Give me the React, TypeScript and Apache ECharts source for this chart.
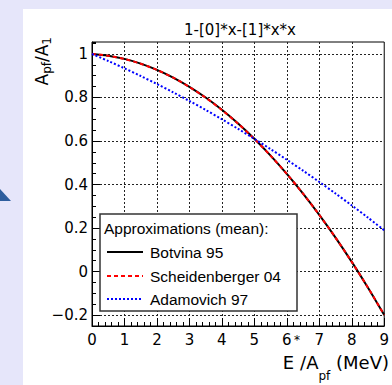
import React, { useEffect, useRef } from "react";
import * as echarts from "echarts";

// Energy per nucleon E*/A_pf (MeV)
const xValues = [0, 0.5, 1, 1.5, 2, 2.5, 3, 3.5, 4, 4.5, 5, 5.5, 6, 6.5, 7, 7.5, 8, 8.5, 9];
// A_pf / A_1
const botvina95 = [1, 0.9921, 0.9774, 0.9557, 0.9271, 0.8916, 0.8491, 0.7998, 0.7435, 0.6803, 0.6103, 0.5332, 0.4493, 0.3585, 0.2607, 0.1561, 0.0445, -0.074, -0.1994];
const scheidenberger04 = [1, 0.992, 0.977, 0.9552, 0.9265, 0.8909, 0.8484, 0.799, 0.7427, 0.6796, 0.6095, 0.5326, 0.4487, 0.358, 0.2604, 0.1559, 0.0445, -0.0738, -0.199];
const adamovich97 = [1, 0.9678, 0.934, 0.8988, 0.862, 0.8238, 0.784, 0.7428, 0.7, 0.6558, 0.61, 0.5628, 0.514, 0.4638, 0.412, 0.3588, 0.304, 0.2478, 0.19];

const chartTitle = "1-[0]*x-[1]*x*x";
const legendHeader = "Approximations (mean):";
const seriesNames = ["Botvina 95", "Scheidenberger 04", "Adamovich 97"];
const seriesColors = ["#000000", "#ff0000", "#0000ff"];
const seriesDash: (number[] | null)[] = [null, [4, 3], [2, 2]];

const toPairs = (ys: number[]) => xValues.map((x, i) => [x, ys[i]]);

export default function App() {
  const ref = useRef<HTMLDivElement>(null);
  useEffect(() => {
    const chart = echarts.init(ref.current!, null, { renderer: "svg", width: 392, height: 385 });
    const gridLeft = 92, gridTop = 42, gridW = 297, gridH = 284;
    const tickFont = "DejaVu Sans";
    const gridLine = { color: "#222", type: [2, 2], width: 1 };
    const yFormatter = (v: number) => {
      const k = Math.round(v / 0.2);
      if (Math.abs(v - k * 0.2) > 1e-6) return "";
      const r = Math.round(v * 10) / 10;
      if (Math.abs(r) < 1e-9) return "0";
      return String(r).replace("-", "\u2212");
    };
    const allSeries = [botvina95, scheidenberger04, adamovich97];
    const legendRows = [252, 276, 299];
    const option: any = {
      animation: false,
      backgroundColor: "#e6e6fa",
      grid: {
        left: gridLeft, top: gridTop, width: gridW, height: gridH,
        show: true, borderColor: "#000", borderWidth: 1, backgroundColor: "transparent",
      },
      xAxis: {
        type: "value", min: 0, max: 9, interval: 1,
        axisLine: { show: true, onZero: false, lineStyle: { color: "#000", width: 1 } },
        axisTick: { show: true, inside: true, length: 8, lineStyle: { color: "#000" } },
        minorTick: { show: true, splitNumber: 5, length: 4, lineStyle: { color: "#000" } },
        axisLabel: { color: "#000", fontFamily: tickFont, fontSize: 15, margin: 6 },
        splitLine: { show: true, showMinLine: false, showMaxLine: false, lineStyle: gridLine },
      },
      yAxis: [
        {
          type: "value", min: -0.25, max: 1.055, splitNumber: 6, minInterval: 0.2, maxInterval: 0.2,
          axisLine: { show: true, onZero: false, lineStyle: { color: "#000", width: 1 } },
          axisTick: { show: true, inside: true, length: 8, lineStyle: { color: "#000" } },
          axisLabel: { color: "#000", fontFamily: tickFont, fontSize: 15, margin: 4, formatter: yFormatter, showMinLabel: false, showMaxLabel: false },
          splitLine: { show: true, showMinLine: false, showMaxLine: false, lineStyle: gridLine },
        },
        {
          type: "value", min: -0.25, max: 1.055, interval: 0.05, position: "left", alignTicks: false,
          axisLine: { show: false, onZero: false },
          axisTick: { show: true, inside: true, length: 4, lineStyle: { color: "#000" } },
          axisLabel: { show: false },
          splitLine: { show: false },
        },
      ],
      series: allSeries.map((ys, i) => ({
        type: "line",
        name: seriesNames[i],
        data: toPairs(ys),
        yAxisIndex: 0,
        showSymbol: false,
        smooth: 0.3,
        clip: true,
        z: 2 + i,
        lineStyle: { color: seriesColors[i], width: 2, type: seriesDash[i] || "solid" },
      })),
      graphic: [
        { type: "rect", z: -10, silent: true, shape: { x: 23, y: 9, width: 369, height: 376 }, style: { fill: "#ffffff" } },
        { type: "polygon", z: -5, silent: true, shape: { points: [[0, 189], [11, 201], [0, 201]] }, style: { fill: "#2e5e9e" } },
        {
          type: "text", x: 240, y: 30, z: 10,
          style: { text: chartTitle, fill: "#000", font: "15px 'DejaVu Sans'", align: "center", verticalAlign: "middle" },
        },
        {
          type: "text", x: 42, y: 37, rotation: Math.PI / 2, z: 10,
          style: {
            text: "{m|A}{s|pf}{m|/A}{s|1}",
            align: "right", verticalAlign: "middle",
            rich: {
              m: { fontFamily: "DejaVu Sans", fontSize: 17, fill: "#000" },
              s: { fontFamily: "DejaVu Sans", fontSize: 12, fill: "#000", padding: [10, 0, 0, 0] },
            },
          },
        },
        {
          type: "text", x: 389, y: 362, z: 10,
          style: {
            text: "{m|E}{u|*}{m|/A}{s|pf}{m| (MeV)}",
            align: "right", verticalAlign: "middle",
            rich: {
              m: { fontFamily: "DejaVu Sans", fontSize: 18, fill: "#000" },
              s: { fontFamily: "DejaVu Sans", fontSize: 12, fill: "#000", padding: [28, 0, 0, 0] },
              u: { fontFamily: "DejaVu Sans", fontSize: 12, fill: "#000", padding: [0, 0, 44, 0] },
            },
          },
        },
        {
          type: "rect", z: 100, shape: { x: 100, y: 214, width: 197, height: 97 },
          style: { fill: "#ffffff", stroke: "#333", lineWidth: 1.5 },
        },
        {
          type: "text", x: 104, y: 228, z: 101,
          style: { text: legendHeader, fill: "#000", font: "15.5px 'Liberation Sans'", verticalAlign: "middle" },
        },
        ...seriesNames.flatMap((name, i) => [
          {
            type: "line", z: 101,
            shape: { x1: 107, y1: legendRows[i], x2: 143, y2: legendRows[i] },
            style: { stroke: seriesColors[i], lineWidth: 2, lineDash: seriesDash[i] || undefined },
          },
          {
            type: "text", x: 150, y: legendRows[i], z: 101,
            style: { text: name, fill: "#000", font: "15.5px 'Liberation Sans'", verticalAlign: "middle" },
          },
        ]),
      ],
    };
    chart.setOption(option);
    return () => chart.dispose();
  }, []);
  return <div ref={ref} style={{ position: "absolute", left: 0, top: 0, width: 392, height: 385 }} />;
}
